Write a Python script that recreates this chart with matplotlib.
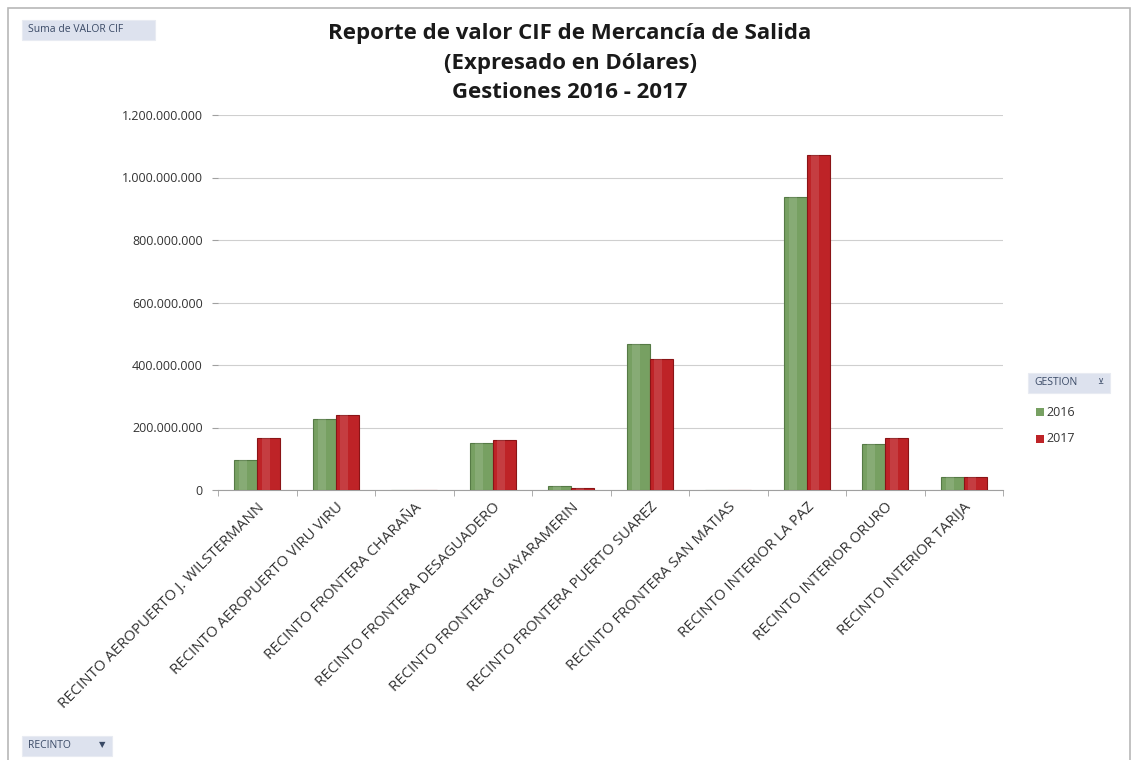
import matplotlib.pyplot as plt
import numpy as np
from matplotlib.patches import FancyBboxPatch, Rectangle
from matplotlib.ticker import FuncFormatter, FixedLocator

plt.rcParams['font.family'] = ['Open Sans', 'DejaVu Sans']

recintos = [
    "RECINTO AEROPUERTO J. WILSTERMANN",
    "RECINTO AEROPUERTO VIRU VIRU",
    "RECINTO FRONTERA CHARAÑA",
    "RECINTO FRONTERA DESAGUADERO",
    "RECINTO FRONTERA GUAYARAMERIN",
    "RECINTO FRONTERA PUERTO SUAREZ",
    "RECINTO FRONTERA SAN MATIAS",
    "RECINTO INTERIOR LA PAZ",
    "RECINTO INTERIOR ORURO",
    "RECINTO INTERIOR TARIJA",
]
valor_2016 = [96e6, 226e6, 0, 150e6, 12e6, 466e6, 0, 938e6, 147e6, 41e6]
valor_2017 = [166e6, 239e6, 0, 160e6, 6e6, 418e6, 0, 1072e6, 166e6, 41e6]
series = ["2016", "2017"]
colores = ["#77a062", "#be2327"]
bordes = ["#557a45", "#8a1416"]

fig = plt.figure(figsize=(11.37, 7.60), dpi=100)
fig.patch.set_facecolor("white")

# marco exterior del grafico dinamico
fig.add_artist(Rectangle((8 / 1137, -0.05), 1122 / 1137, 1 - 8 / 760 + 0.05,
                         transform=fig.transFigure, fill=False,
                         edgecolor="#b8b8b8", linewidth=1.2))

ax = fig.add_axes([218 / 1137, 1 - 490 / 760, (1003 - 218) / 1137, (490 - 115) / 760])

x = np.arange(len(recintos))
w = 0.29
for i, (vals, c, e) in enumerate(zip([valor_2016, valor_2017], colores, bordes)):
    pos = x + (i - 0.5) * w
    ax.bar(pos, vals, width=w, color=c, edgecolor=e, linewidth=0.8, zorder=3)
    # franja clara para imitar el degradado de Excel
    ax.bar(pos - w * 0.12, vals, width=w * 0.35, color="white", alpha=0.12,
           linewidth=0, zorder=4)

ax.set_xlim(-0.5, len(recintos) - 0.5)
ax.set_ylim(0, 1.2e9)
ax.set_yticks(np.arange(0, 1.2e9 + 1, 2e8))
ax.yaxis.set_major_formatter(FuncFormatter(lambda v, p: f"{int(v):,}".replace(",", ".")))
ax.grid(axis="y", color="#cfcfcf", linewidth=0.8, zorder=0)
ax.set_axisbelow(True)

ax.set_xticks(x)
ax.set_xticklabels(recintos, rotation=45, ha="right", rotation_mode="anchor",
                   fontsize=10.8, color="#333333")
ax.xaxis.set_minor_locator(FixedLocator(np.arange(-0.5, len(recintos), 1.0)))
ax.tick_params(axis="x", which="major", length=0, pad=7)
ax.tick_params(axis="x", which="minor", length=4, color="#a0a0a0")
ax.tick_params(axis="y", length=4, color="#a0a0a0", labelsize=9,
               labelcolor="#333333", pad=7)

for s in ["top", "right"]:
    ax.spines[s].set_visible(False)
for s in ["left", "bottom"]:
    ax.spines[s].set_color("#a0a0a0")
ax.spines["left"].set_visible(False)

# titulo
fig.text(570 / 1137, 1 - 63 / 760,
         "Reporte de valor CIF de Mercancía de Salida\n(Expresado en Dólares)\nGestiones 2016 - 2017",
         ha="center", va="center", fontsize=16, fontweight="bold",
         color="#1a1a1a", linespacing=1.5)

# botones de campo de la tabla dinamica
def boton(x0, y0, w0, h0, texto, flecha=None, size=7.5):
    fig.add_artist(FancyBboxPatch((x0 / 1137, 1 - (y0 + h0) / 760), w0 / 1137, h0 / 760,
                                  boxstyle="square,pad=0", transform=fig.transFigure,
                                  facecolor="#dde2ee", edgecolor="#e8ebf2", linewidth=0.8))
    fig.text((x0 + 6) / 1137, 1 - (y0 + h0 / 2) / 760, texto, ha="left", va="center",
             fontsize=size, color="#3a4a66")
    if flecha:
        fig.text((x0 + w0 - 10) / 1137, 1 - (y0 + h0 / 2) / 760, flecha, ha="center",
                 va="center", fontsize=size - 1.5, color="#3a4a66")

boton(22, 20, 133, 20, "Suma de VALOR CIF")
boton(22, 736, 90, 20, "RECINTO", "▼")
boton(1028, 373, 82, 20, "GESTION", "⊻")

# leyenda
for i, (s, c) in enumerate(zip(series, colores)):
    yy = 412 + i * 27
    fig.add_artist(Rectangle((1036 / 1137, 1 - (yy + 4) / 760), 8 / 1137, 8 / 760,
                             transform=fig.transFigure, facecolor=c, edgecolor="none"))
    fig.text(1046 / 1137, 1 - yy / 760, s, ha="left", va="center",
             fontsize=9, color="#333333")

fig.savefig("out.png", dpi=100)
